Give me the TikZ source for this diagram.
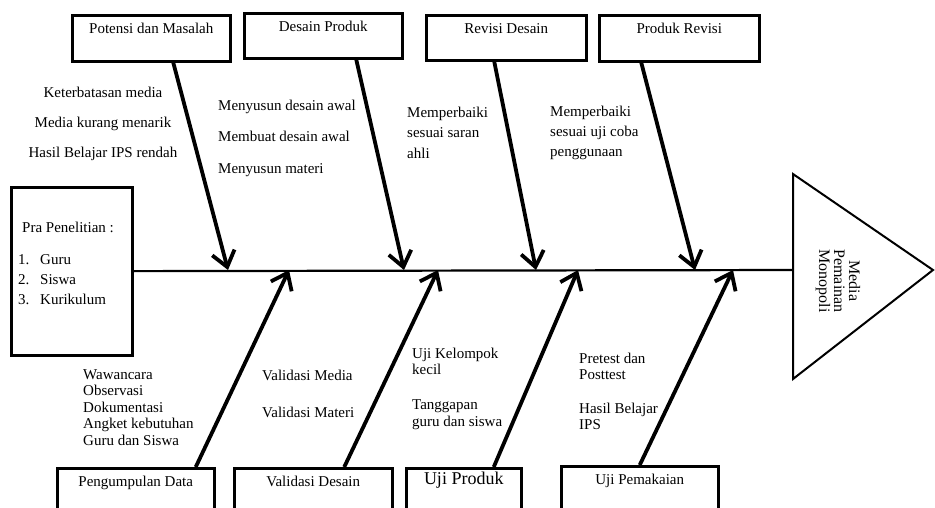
\documentclass[tikz,border=0pt]{standalone}
\usepackage{fontspec}
\setmainfont{Liberation Serif}
\usetikzlibrary{arrows.meta}
\newcommand{\fs}{\fontsize{15}{16.5}\selectfont}
\newcommand{\rows}[2]{\begin{tabular}[t]{@{}#1@{}}#2\end{tabular}}
\begin{document}
\begin{tikzpicture}[x=1pt,y=-1pt,font=\fs,
		box/.style={draw,line width=2.5pt,minimum width=158pt,minimum height=46pt,anchor=north west,inner sep=0pt},
		title/.style={label={[anchor=base,yshift=-19pt]north:#1}},
		txt/.style={anchor=base west,inner sep=0pt},
		bone/.style={line width=3.8pt,-{Straight Barb[length=15pt,width=23pt]}}]
		\clip (0,0) rectangle (935,507);
		\node[box,title=Potensi dan Masalah] (pot) at (71,14) {};
		\node[box,title=Desain Produk,minimum height=45pt] (des) at (243,12) {};
		\node[box,title=Revisi Desain,minimum width=160pt,minimum height=45pt] (rev) at (425,14) {};
		\node[box,title=Produk Revisi,minimum width=160pt] (pro) at (598,14) {};
		\node[box,minimum width=121pt,minimum height=168pt] (pra) at (10,186) {};
		\node[box,title=Pengumpulan Data,minimum width=157pt] (pd) at (56,467) {};
		\node[box,title=Validasi Desain] (vd) at (233,467) {};
		\node[box,minimum width=115pt,label={[anchor=base,yshift=-17pt,font=\fontsize{18}{20}\selectfont]north:Uji Produk}] (up) at (405,467) {};
		\node[box,title=Uji Pemakaian,minimum width=157pt] (upk) at (560,465) {};
		\coordinate (head) at (793,270);
		\draw[line width=2pt] (793,174) -- (933,270) -- (793,379) -- cycle;
		\node[rotate=-90,align=center,inner sep=0pt,font=\fontsize{16}{15}\selectfont] (goal) at (838,281) {Media\\Pemainan\\Monopoli};
		\draw[line width=2.2pt] (pra) -- (head);
		\coordinate (s1) at (228,270);
		\coordinate (s2) at (404,270);
		\coordinate (s3) at (536,270);
		\coordinate (s4) at (695,270);
		\coordinate (b1) at (289,270);
		\coordinate (b2) at (438,270);
		\coordinate (b3) at (578,270);
		\coordinate (b4) at (733,270);
		\draw[bone] ([xshift=22pt]pot.south) -- (s1);
		\draw[bone] ([xshift=33pt]des.south) -- (s2);
		\draw[bone] ([xshift=-12pt]rev.south) -- (s3);
		\draw[bone] ([xshift=-38pt]pro.south) -- (s4);
		\draw[bone] ([xshift=60pt]pd.north) -- (b1);
		\draw[bone] ([xshift=31pt]vd.north) -- (b2);
		\draw[bone] ([xshift=30pt]up.north) -- (b3);
		\draw[bone] (upk.north) -- (b4);
		\node[anchor=base,inner sep=0pt] (potT) at (103,97) {\rows{c}{Keterbatasan media\\[13.5pt]Media kurang menarik\\[13.5pt]Hasil Belajar IPS rendah}};
		\node[txt] (desT) at (218,110) {\rows{l}{Menyusun desain awal\\[15pt]Membuat desain awal\\[15pt]Menyusun materi}};
		\node[txt] (revT) at (407,117) {\rows{l}{Memperbaiki\\[4pt]sesuai saran\\[4pt]ahli}};
		\node[txt] (proT) at (550,116) {\rows{l}{Memperbaiki\\[3.5pt]sesuai uji coba\\[3.5pt]penggunaan}};
		\node[txt] (praT) at (22,232) {Pra Penelitian :};
		\node[txt] (praL) at (18,264) {\begin{tabular}[t]{@{}p{22pt}@{}l@{}}1.&Guru\\[3.5pt]2.&Siswa\\[3.5pt]3.&Kurikulum\end{tabular}};
		\node[txt] (pdT) at (83,379) {\rows{l}{Wawancara\\Observasi\\Dokumentasi\\Angket kebutuhan\\Guru dan Siswa}};
		\node[txt] (vdT) at (262,380) {\rows{l}{Validasi Media\\[20.5pt]Validasi Materi}};
		\node[txt] (upT) at (412,358) {\rows{l}{Uji Kelompok\\kecil\\[18.5pt]Tanggapan\\guru dan siswa}};
		\node[txt] (upkT) at (579,363) {\rows{l}{Pretest dan\\Posttest\\[17pt]Hasil Belajar\\IPS}};
\end{tikzpicture}
\end{document}
